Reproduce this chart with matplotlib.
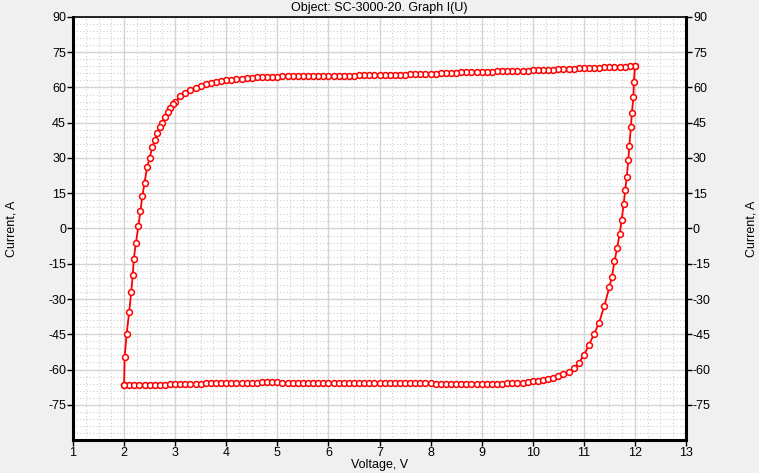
import matplotlib.pyplot as plt
from matplotlib.ticker import MultipleLocator

# lower branch, left to right (Voltage V, Current A)
u_low = [2.0, 2.1, 2.2, 2.3, 2.4, 2.5, 2.6, 2.7, 2.8, 2.9,
         3.0, 3.1, 3.2, 3.3, 3.4, 3.5, 3.6, 3.7, 3.8, 3.9,
         4.0, 4.1, 4.2, 4.3, 4.4, 4.5, 4.6, 4.7, 4.8, 4.9,
         5.0, 5.1, 5.2, 5.3, 5.4, 5.5, 5.6, 5.7, 5.8, 5.9,
         6.0, 6.1, 6.2, 6.3, 6.4, 6.5, 6.6, 6.7, 6.8, 6.9,
         7.0, 7.1, 7.2, 7.3, 7.4, 7.5, 7.6, 7.7, 7.8, 7.9,
         8.0, 8.1, 8.2, 8.3, 8.4, 8.5, 8.6, 8.7, 8.8, 8.9,
         9.0, 9.1, 9.2, 9.3, 9.4, 9.5, 9.6, 9.7, 9.8, 9.9,
         10.0, 10.1, 10.2, 10.3, 10.4, 10.5, 10.6, 10.7, 10.8, 10.9,
         11.0, 11.1, 11.2, 11.3, 11.4, 11.5, 11.55, 11.6, 11.65, 11.7,
         11.74, 11.78, 11.81, 11.84, 11.87, 11.89, 11.92, 11.94, 11.97, 11.98,
         12.0]
i_low = [-66.8, -66.7, -66.7, -66.6, -66.6, -66.5, -66.5, -66.4, -66.4, -66.3,
         -66.3, -66.2, -66.2, -66.0, -66.0, -66.0, -65.9, -65.9, -65.9, -65.8,
         -65.8, -65.8, -65.7, -65.7, -65.7, -65.6, -65.6, -65.5, -65.5, -65.5,
         -65.5, -65.6, -65.6, -65.6, -65.7, -65.7, -65.7, -65.8, -65.8, -65.8,
         -65.8, -65.8, -65.8, -65.8, -65.8, -65.8, -65.8, -65.8, -65.8, -65.9,
         -65.9, -65.9, -65.9, -65.9, -65.9, -65.9, -65.9, -65.9, -65.9, -65.9,
         -65.9, -66.0, -66.0, -66.1, -66.1, -66.1, -66.2, -66.2, -66.2, -66.2,
         -66.2, -66.1, -66.1, -66.0, -66.0, -65.9, -65.8, -65.7, -65.6, -65.4,
         -65.1, -64.8, -64.4, -64.0, -63.6, -62.8, -61.8, -61.0, -59.5, -57.3,
         -54.0, -49.5, -45.0, -40.0, -33.0, -25.0, -20.5, -14.0, -8.5, -2.5,
         3.5, 10.5, 16.4, 22.0, 29.0, 35.0, 43.0, 49.0, 56.0, 62.5,
         69.0]

# upper branch, right to left
u_up = [12.0, 11.9, 11.8, 11.7, 11.6, 11.5, 11.4, 11.3, 11.2, 11.1,
        11.0, 10.9, 10.8, 10.7, 10.6, 10.5, 10.4, 10.3, 10.2, 10.1,
        10.0, 9.9, 9.8, 9.7, 9.6, 9.5, 9.4, 9.3, 9.2, 9.1,
        9.0, 8.9, 8.8, 8.7, 8.6, 8.5, 8.4, 8.3, 8.2, 8.1,
        8.0, 7.9, 7.8, 7.7, 7.6, 7.5, 7.4, 7.3, 7.2, 7.1,
        7.0, 6.9, 6.8, 6.7, 6.6, 6.5, 6.4, 6.3, 6.2, 6.1,
        6.0, 5.9, 5.8, 5.7, 5.6, 5.5, 5.4, 5.3, 5.2, 5.1,
        5.0, 4.9, 4.8, 4.7, 4.6, 4.5, 4.4, 4.3, 4.2, 4.1,
        4.0, 3.9, 3.8, 3.7, 3.6, 3.5, 3.4, 3.3, 3.2, 3.1,
        3.0, 2.95, 2.9, 2.85, 2.8, 2.75, 2.7, 2.65, 2.6, 2.55,
        2.5, 2.45, 2.4, 2.36, 2.32, 2.28, 2.23, 2.19, 2.17, 2.14,
        2.10, 2.05, 2.01, 2.0]
i_up = [69.0, 69.0, 68.9, 68.9, 68.8, 68.7, 68.6, 68.5, 68.4, 68.3,
        68.2, 68.1, 68.0, 67.9, 67.8, 67.7, 67.6, 67.5, 67.5, 67.4,
        67.3, 67.2, 67.2, 67.1, 67.0, 67.0, 66.9, 66.9, 66.8, 66.7,
        66.7, 66.6, 66.6, 66.5, 66.4, 66.3, 66.2, 66.1, 66.0, 65.9,
        65.8, 65.7, 65.7, 65.6, 65.6, 65.5, 65.5, 65.4, 65.4, 65.3,
        65.3, 65.3, 65.2, 65.2, 65.2, 65.1, 65.1, 65.1, 65.0, 65.0,
        65.0, 65.0, 64.9, 64.9, 64.9, 64.8, 64.8, 64.8, 64.7, 64.7,
        64.6, 64.6, 64.5, 64.5, 64.4, 64.2, 64.0, 63.8, 63.6, 63.4,
        63.1, 62.8, 62.4, 61.9, 61.3, 60.6, 59.9, 58.9, 57.7, 56.2,
        54.0, 52.8, 51.2, 49.5, 47.6, 45.1, 43.0, 40.8, 37.5, 34.5,
        30.0, 26.0, 19.5, 14.0, 7.4, 1.0, -6.3, -13.0, -19.8, -26.9,
        -35.4, -44.9, -54.8, -66.8]

x_ticks = [1, 2, 3, 4, 5, 6, 7, 8, 9, 10, 11, 12, 13]
y_ticks = [-75, -60, -45, -30, -15, 0, 15, 30, 45, 60, 75, 90]

bg = '#f0f0f0'
plt.rcParams['font.family'] = 'Liberation Sans'
plt.rcParams['axes.unicode_minus'] = False
fig = plt.figure(figsize=(7.59, 4.73), dpi=100, facecolor=bg)
ax = fig.add_axes([73 / 759, 33 / 473, 613 / 759, 423 / 473])

# the loop as one path
u_all = u_low + u_up
i_all = i_low + i_up
ax.plot(u_all, i_all, color='red', lw=1.3, marker='o', markersize=4.2,
        mfc='white', mec='red', mew=1.1, zorder=3)

ax.set_xlim(1, 13)
ax.set_ylim(-90, 90)
ax.set_xticks(x_ticks)
ax.set_yticks(y_ticks)
ax.xaxis.set_minor_locator(MultipleLocator(0.25))
ax.yaxis.set_minor_locator(MultipleLocator(3))
ax.grid(which='major', color='#d4d4d4', lw=1.0, ls='-')
ax.grid(which='minor', color='#cfcfcf', lw=0.8, ls=(0, (1, 2)))
ax.set_axisbelow(True)

ax.tick_params(which='major', direction='out', length=4, width=1,
               labelsize=9, left=True, right=True, labelleft=True,
               labelright=True, pad=1)
ax.tick_params(which='minor', length=0)

for side in ['left', 'bottom', 'right']:
    ax.spines[side].set_linewidth(2.2)
ax.spines['top'].set_linewidth(1.2)

ax.set_title('Object: SC-3000-20. Graph I(U)', fontsize=9, pad=4)
ax.set_xlabel('Voltage, V', fontsize=9, labelpad=0)
fig.text(12 / 759, 1 - 229 / 473, 'Current, A', rotation=90, fontsize=9,
         ha='center', va='center')
fig.text(752 / 759, 1 - 229 / 473, 'Current, A', rotation=90, fontsize=9,
         ha='center', va='center')

fig.savefig('out.png', dpi=100, facecolor=bg)
